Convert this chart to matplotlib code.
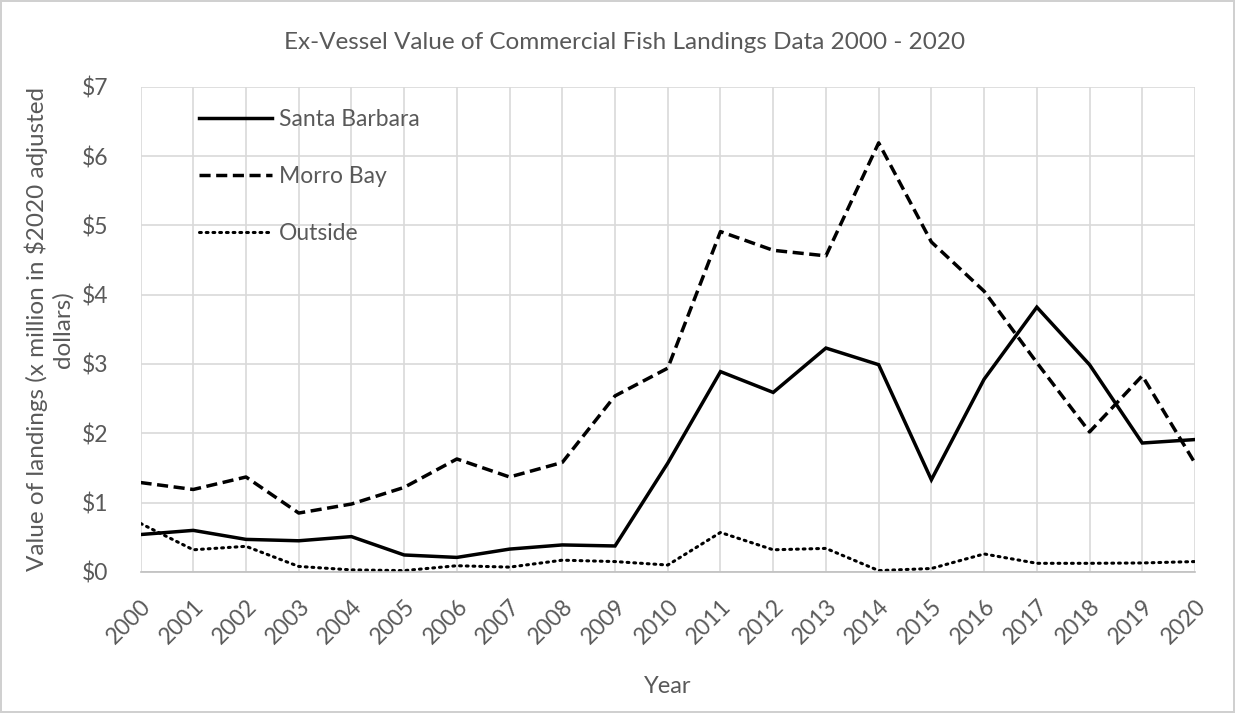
import matplotlib
matplotlib.use("Agg")
import matplotlib.pyplot as plt
from matplotlib.ticker import FuncFormatter, MultipleLocator

years = list(range(2000, 2021))
santa_barbara = [0.54, 0.60, 0.47, 0.45, 0.51, 0.245, 0.21, 0.33, 0.39, 0.375,
                 1.57, 2.89, 2.59, 3.23, 2.99, 1.33, 2.78, 3.82, 2.99, 1.86, 1.91]
morro_bay = [1.29, 1.19, 1.37, 0.85, 0.98, 1.22, 1.63, 1.37, 1.58, 2.54,
             2.94, 4.91, 4.64, 4.56, 6.19, 4.76, 4.05, 3.02, 2.02, 2.83, 1.57]
outside = [0.70, 0.32, 0.37, 0.08, 0.03, 0.02, 0.09, 0.07, 0.17, 0.15,
           0.10, 0.57, 0.32, 0.34, 0.02, 0.05, 0.26, 0.125, 0.125, 0.13, 0.15]

title = "Ex-Vessel Value of Commercial Fish Landings Data 2000 - 2020"
ylabel = "Value of landings (x million in $2020 adjusted\ndollars)"
xlabel = "Year"

plt.rcParams["font.family"] = ["Lato", "DejaVu Sans"]
text_color = "#595959"
grid_color = "#d9d9d9"

fig = plt.figure(figsize=(12.35, 7.13), dpi=100)
fig.patch.set_facecolor("white")
fig.patch.set_edgecolor("#d0d0d0")
fig.patch.set_linewidth(1.5)

ax = fig.add_axes([0.1138, 0.1978, 0.8538, 0.6806])

ax.plot(years, santa_barbara, color="black", lw=2.5, ls="-",
        solid_joinstyle="miter", label="Santa Barbara")
ax.plot(years, morro_bay, color="black", lw=2.5, ls=(0, (3.2, 1.6)),
        label="Morro Bay")
ax.plot(years, outside, color="black", lw=2.2, ls=(0, (0.6, 1.6)),
        dash_capstyle="round", label="Outside")

ax.set_xlim(2000, 2020)
ax.set_ylim(0, 7)
ax.set_xticks(years)
ax.set_xticklabels([str(y) for y in years], rotation=45, ha="right",
                   rotation_mode="anchor")
ax.yaxis.set_major_locator(MultipleLocator(1))
ax.yaxis.set_major_formatter(FuncFormatter(lambda v, p: f"${int(v)}"))

ax.grid(True, color=grid_color, lw=1.2)
ax.set_axisbelow(True)
for side in ("top", "left", "right"):
    ax.spines[side].set_visible(False)
ax.spines["bottom"].set_color("#bfbfbf")
ax.spines["bottom"].set_linewidth(1.2)
ax.tick_params(axis="both", length=0, colors=text_color, labelsize=16.5)
ax.tick_params(axis="x", pad=17)
ax.tick_params(axis="y", pad=23)

fig.text(0.506, 0.941, title, color=text_color, fontsize=17.5,
         ha="center", va="center")
ax.set_xlabel(xlabel, color=text_color, fontsize=17, labelpad=20)
ax.set_ylabel(ylabel, color=text_color, fontsize=17.5, labelpad=6,
              linespacing=1.25)

leg = ax.legend(loc="upper left", bbox_to_anchor=(0.036, 0.997), frameon=False,
                fontsize=16.5, labelcolor=text_color, handlelength=3.2,
                labelspacing=1.58, handletextpad=0.3)

fig.savefig("out.png", dpi=100, facecolor=fig.get_facecolor(),
            edgecolor=fig.get_edgecolor())
